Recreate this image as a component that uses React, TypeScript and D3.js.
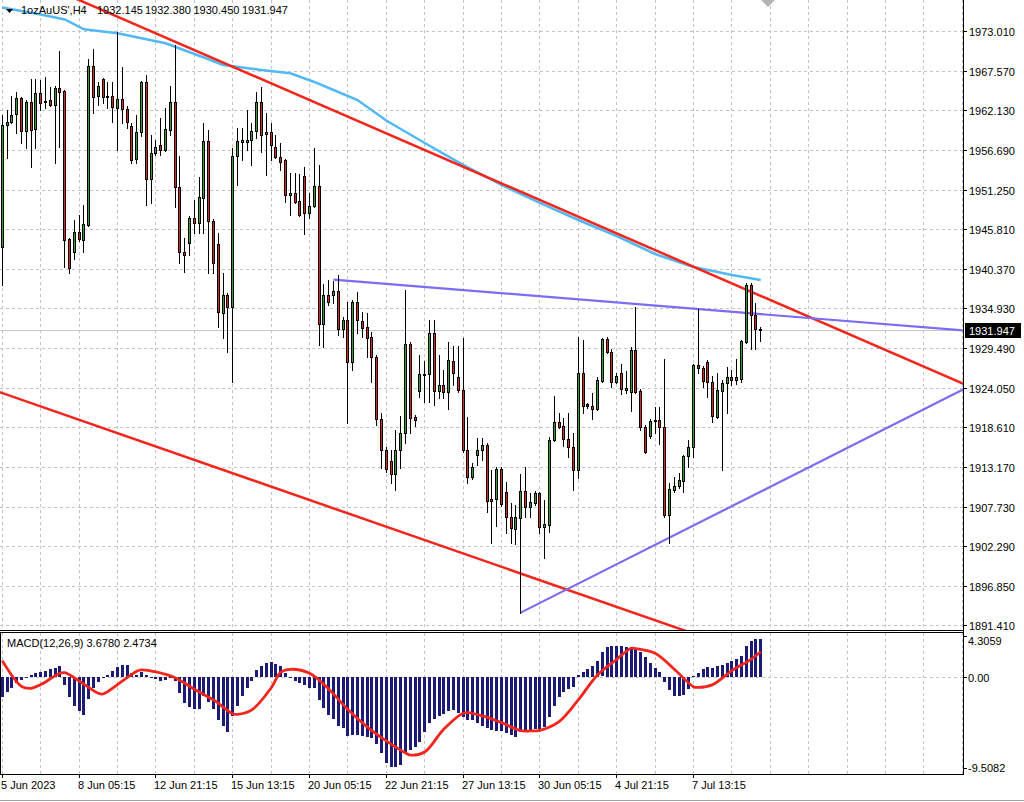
import React, { useRef, useEffect } from 'react';
import * as d3 from 'd3';

// ── Data (H4 bars) ───────────────────────────────────────────────────────────
const OPEN = [
  1943.4, 1960.1, 1960.5, 1961.65, 1963.8, 1959.36, 1963.34, 1959.54, 1964.49, 1963.48,
  1963.57, 1962.88, 1965.17, 1964.85, 1944.43, 1942.65, 1945.39, 1944.34, 1946.4, 1968.29,
  1964.12, 1966.41, 1964.12, 1964.12, 1962.43, 1963.66, 1962.29, 1960.0, 1955.42, 1959.13,
  1966.04, 1952.67, 1956.24, 1957.34, 1956.7, 1959.45, 1963.34, 1951.57, 1942.74, 1943.88,
  1947.32, 1946.63, 1950.07, 1957.94, 1947.0, 1943.75, 1934.27, 1936.79, 1935.1, 1955.88,
  1957.85, 1957.85, 1958.08, 1959.36, 1963.35, 1958.91, 1959.23, 1957.07, 1955.79, 1955.33,
  1950.48, 1950.75, 1949.75, 1953.14, 1948.01, 1949.02, 1951.76, 1932.81, 1936.79, 1936.79,
  1937.34, 1932.07, 1933.36, 1927.63, 1935.87, 1933.22, 1932.44, 1931.07, 1928.32, 1919.71,
  1915.5, 1914.03, 1912.2, 1915.5, 1917.88, 1930.06, 1920.07, 1923.65, 1925.9, 1925.93,
  1931.52, 1923.65, 1924.42, 1923.51, 1927.77, 1925.57, 1923.74, 1915.5, 1911.74, 1914.81,
  1915.5, 1916.18, 1908.72, 1908.72, 1912.84, 1909.77, 1906.34, 1904.6, 1906.11, 1909.91,
  1907.71, 1908.26, 1909.54, 1904.87, 1905.19, 1916.87, 1919.39, 1918.79, 1916.96, 1915.95,
  1912.75, 1926.03, 1921.77, 1921.54, 1921.08, 1925.02, 1930.7, 1929.0, 1924.88, 1926.12,
  1923.74, 1923.51, 1929.23, 1923.65, 1918.61, 1917.42, 1919.43, 1919.62, 1918.61, 1906.57,
  1910.0, 1910.55, 1911.28, 1914.67, 1915.95, 1927.17, 1926.8, 1927.63, 1924.88, 1920.07,
  1923.65, 1924.65, 1925.48, 1925.11, 1925.2, 1930.38, 1938.16, 1934.04, 1932.145,
];
const HIGH = [
  1961.5, 1962.2, 1964.1, 1964.72, 1963.94, 1963.57, 1966.41, 1966.41, 1966.32, 1966.78,
  1965.4, 1965.49, 1970.3, 1964.94, 1944.57, 1947.09, 1947.77, 1949.15, 1969.16, 1970.53,
  1966.09, 1966.55, 1966.09, 1966.09, 1972.96, 1968.15, 1962.75, 1960.37, 1961.51, 1966.18,
  1967.0, 1958.76, 1958.08, 1961.05, 1962.43, 1965.49, 1971.13, 1955.88, 1944.57, 1947.64,
  1949.84, 1952.95, 1960.37, 1959.45, 1947.18, 1945.35, 1939.77, 1937.02, 1956.94, 1959.68,
  1959.68, 1962.2, 1960.46, 1964.72, 1965.41, 1961.74, 1960.37, 1958.77, 1957.62, 1955.42,
  1953.5, 1953.5, 1953.41, 1954.33, 1950.85, 1956.94, 1954.65, 1938.3, 1938.85, 1938.76,
  1939.54, 1933.81, 1935.87, 1936.1, 1937.25, 1934.5, 1934.27, 1931.75, 1928.55, 1920.54,
  1915.95, 1915.5, 1918.24, 1920.17, 1937.47, 1930.38, 1920.3, 1928.54, 1927.77, 1933.35,
  1933.35, 1928.54, 1926.48, 1930.38, 1929.78, 1929.78, 1930.83, 1920.07, 1913.66, 1917.1,
  1917.1, 1916.5, 1912.75, 1913.21, 1913.11, 1911.15, 1908.17, 1907.94, 1912.2, 1913.21,
  1909.54, 1909.91, 1909.77, 1908.63, 1917.33, 1922.91, 1920.53, 1919.85, 1920.53, 1917.79,
  1931.06, 1930.6, 1922.0, 1923.28, 1925.48, 1930.83, 1930.97, 1929.32, 1926.03, 1927.31,
  1926.39, 1929.6, 1935.18, 1923.83, 1918.93, 1919.71, 1921.45, 1921.36, 1927.95, 1911.01,
  1911.83, 1912.38, 1914.81, 1916.87, 1927.31, 1934.82, 1927.03, 1927.86, 1925.66, 1926.12,
  1925.11, 1926.94, 1926.48, 1927.95, 1930.6, 1938.48, 1938.48, 1935.64, 1932.38,
];
const LOW = [
  1938.2, 1955.6, 1960.4, 1959.08, 1957.71, 1956.93, 1954.41, 1956.93, 1962.2, 1962.43,
  1962.75, 1954.87, 1957.16, 1940.68, 1939.85, 1941.68, 1944.25, 1942.74, 1946.2, 1961.74,
  1962.88, 1963.11, 1962.43, 1960.59, 1956.7, 1960.37, 1959.68, 1954.96, 1954.96, 1958.63,
  1949.15, 1949.47, 1956.0, 1956.02, 1956.61, 1958.76, 1948.92, 1941.14, 1939.99, 1942.28,
  1945.26, 1945.26, 1945.26, 1939.77, 1939.77, 1932.44, 1930.84, 1929.01, 1924.88, 1951.9,
  1955.33, 1956.71, 1954.65, 1958.31, 1956.48, 1953.27, 1955.33, 1955.56, 1953.96, 1949.61,
  1947.78, 1949.38, 1947.64, 1945.17, 1947.32, 1948.92, 1929.92, 1929.69, 1935.42, 1935.65,
  1931.3, 1931.07, 1919.16, 1926.49, 1931.53, 1931.07, 1928.32, 1924.88, 1918.93, 1912.98,
  1912.52, 1910.92, 1910.0, 1912.98, 1916.5, 1917.88, 1918.79, 1922.73, 1922.13, 1922.13,
  1921.68, 1922.59, 1922.59, 1921.08, 1924.42, 1923.51, 1915.27, 1910.92, 1911.47, 1913.43,
  1914.12, 1907.02, 1902.77, 1905.06, 1907.8, 1904.05, 1902.77, 1902.58, 1893.15, 1906.34,
  1906.25, 1907.94, 1904.14, 1900.61, 1904.28, 1916.78, 1918.47, 1916.04, 1914.58, 1910.0,
  1911.6, 1920.53, 1921.22, 1919.71, 1920.99, 1924.88, 1928.77, 1924.1, 1924.74, 1923.19,
  1923.28, 1920.9, 1923.37, 1918.24, 1915.13, 1917.1, 1917.78, 1916.32, 1906.34, 1902.68,
  1909.77, 1910.23, 1909.77, 1913.21, 1914.58, 1926.03, 1924.19, 1922.82, 1919.39, 1919.84,
  1912.75, 1920.62, 1924.42, 1924.56, 1924.88, 1930.15, 1929.32, 1929.32, 1930.45,
];
const CLOSE = [
  1960.1, 1960.5, 1961.5, 1963.8, 1959.36, 1963.34, 1959.45, 1964.49, 1963.11, 1963.4,
  1962.88, 1965.17, 1964.72, 1944.34, 1940.45, 1945.39, 1944.43, 1946.54, 1968.29, 1964.03,
  1965.49, 1963.94, 1963.94, 1962.56, 1963.66, 1962.29, 1960.59, 1955.33, 1959.22, 1966.04,
  1952.67, 1956.24, 1957.07, 1956.7, 1959.59, 1963.34, 1951.57, 1942.65, 1942.28, 1947.32,
  1946.64, 1950.2, 1957.94, 1947.0, 1941.14, 1934.41, 1936.79, 1935.1, 1955.88, 1957.94,
  1958.08, 1958.08, 1959.36, 1963.35, 1958.77, 1959.23, 1957.39, 1955.7, 1955.1, 1950.53,
  1950.75, 1949.61, 1947.78, 1948.01, 1949.02, 1951.76, 1932.81, 1936.79, 1935.87, 1937.34,
  1932.07, 1933.36, 1927.63, 1935.87, 1933.36, 1932.21, 1930.84, 1928.32, 1919.71, 1915.5,
  1912.84, 1912.2, 1915.5, 1917.88, 1930.06, 1919.94, 1919.62, 1925.93, 1926.0, 1931.52,
  1923.65, 1924.42, 1923.51, 1927.86, 1926.12, 1923.74, 1915.5, 1911.74, 1913.21, 1915.5,
  1916.18, 1908.53, 1908.53, 1912.84, 1908.08, 1906.34, 1904.74, 1906.25, 1909.91, 1907.62,
  1908.4, 1909.54, 1904.87, 1905.33, 1916.87, 1919.39, 1918.61, 1916.96, 1915.95, 1912.75,
  1926.03, 1921.54, 1921.54, 1921.08, 1925.11, 1930.7, 1929.0, 1924.88, 1925.66, 1923.83,
  1923.97, 1929.23, 1923.51, 1918.61, 1915.27, 1919.52, 1919.62, 1918.61, 1906.57, 1910.09,
  1910.55, 1911.38, 1914.67, 1915.95, 1927.17, 1926.71, 1925.02, 1924.88, 1920.17, 1923.74,
  1924.74, 1925.48, 1925.11, 1925.48, 1930.51, 1938.16, 1934.04, 1932.07, 1931.947,
];

// MACD(12,26,9) main line, drawn as a histogram (one value per bar)
const MACD_MAIN = [
  -2.0, -1.44, -1.11, -0.62, -0.29, -0.07, 0.16, 0.36, 0.52, 0.62,
  0.75, 0.92, 1.11, -0.78, -1.93, -2.84, -3.3, -3.73, -2.19, -1.11,
  -0.46, -0.03, 0.16, 0.62, 0.95, 1.14, 1.14, 0.42, 0.2, 0.52,
  0.2, -0.13, -0.23, -0.36, -0.29, -0.03, -0.36, -1.54, -2.58, -2.97,
  -3.17, -3.17, -1.86, -2.42, -3.17, -4.22, -4.8, -5.36, -3.82, -2.84,
  -1.86, -1.11, -0.36, 0.69, 1.11, 1.41, 1.44, 1.31, 1.08, 0.42,
  -0.03, -0.36, -0.56, -0.78, -1.11, -1.05, -2.25, -3.07, -3.73, -4.15,
  -4.8, -5.03, -5.78, -5.69, -5.69, -5.78, -5.85, -6.01, -6.57, -7.48,
  -8.46, -8.82, -8.82, -8.63, -7.48, -7.16, -6.9, -6.35, -5.4, -4.54,
  -4.1, -3.85, -3.65, -3.3, -3.28, -3.5, -3.95, -4.22, -4.22, -4.5,
  -4.8, -5.0, -5.2, -5.25, -5.3, -5.52, -5.69, -5.85, -5.4, -5.2,
  -5.2, -5.13, -5.1, -4.9, -3.9, -2.8, -1.95, -1.45, -1.15, -0.95,
  0.2, 0.45, 0.8, 1.1, 1.6, 2.4, 2.9, 3.0, 3.0, 3.0,
  2.95, 2.9, 2.85, 2.45, 2.0, 1.35, 0.85, 0.5, -0.5, -1.3,
  -1.9, -1.9, -1.8, -1.2, 0.1, 0.4, 0.75, 0.95, 0.85, 1.05,
  1.2, 1.35, 1.6, 1.75, 2.1, 3.05, 3.55, 3.7, 3.678,
];

// Signal line, read at these bars
const SIGNAL_BARS = [
  0, 4, 6, 8, 12, 13, 16, 20, 21, 24, 28, 29, 32, 36, 40, 44, 48, 49, 52, 56,
  58, 60, 64, 68, 72, 76, 80, 84, 85, 88, 92, 96, 97, 100, 104, 108, 110, 112, 116, 120,
  124, 128, 131, 132, 136, 140, 144, 145, 148, 152, 156, 158,
];
const SIGNAL_VALS = [
  1.6, -0.92, -1.11, -0.75, 0.36, 0.42, -0.39, -1.6, -1.67, -0.75, 0.56, 0.69, 0.49, -0.08, -1.2, -2.25, -3.6, -3.66, -3.22, -1.08,
  0.46, 0.75, 0.36, -1.18, -3.2, -4.89, -6.27, -7.45, -7.65, -7.35, -5.1, -3.56, -3.5, -3.82, -4.48, -5.26, -5.29, -5.23, -4.38, -2.25,
  0.2, 1.73, 2.81, 2.78, 2.32, 0.75, -0.95, -1.02, -0.75, 0.62, 1.73, 2.4734,
];

// Moving average (light blue)
const MA_BARS = [0, 8, 13, 17, 24, 34, 42, 46, 54, 60, 65, 69, 74, 80, 88, 96, 104, 112, 120, 128, 136, 144, 152, 158];
const MA_VALS = [
  1976.28, 1975.32, 1974.63, 1973.29, 1972.74, 1971.36, 1969.41, 1968.38, 1967.69, 1967.24,
  1966.05, 1964.95, 1963.57, 1960.76, 1957.67, 1954.65, 1951.9, 1949.43, 1947.09, 1944.89,
  1942.42, 1940.63, 1939.54, 1938.85,
];

// Trendlines: two anchors each [bar, price]
const RED_UPPER = [[20, 1976.16], [150, 1938.95]];
const RED_LOWER = [[0, 1923.31], [130, 1893.48]];
const PURPLE_UPPER = [[69, 1938.9], [145, 1934.85]];
const PURPLE_LOWER = [[108, 1893.15], [158, 1909.78]];

const PRICE_TICKS = [
  1973.01, 1967.57, 1962.13, 1956.69, 1951.25, 1945.81, 1940.37, 1934.93,
  1929.49, 1924.05, 1918.61, 1913.17, 1907.73, 1902.29, 1896.85, 1891.41,
];
const MACD_TICKS = [4.3059, 0, -9.5082];
const MACD_TICK_LABELS = ['4.3059', '0.00', '-9.5082'];
const DATE_BARS = [0, 16, 32, 48, 64, 80, 96, 112, 128, 144];
const DATE_LABELS = [
  '5 Jun 2023', '8 Jun 05:15', '12 Jun 21:15', '15 Jun 13:15', '20 Jun 05:15',
  '22 Jun 21:15', '27 Jun 13:15', '30 Jun 05:15', '4 Jul 21:15', '7 Jul 13:15',
];
const LAST_PRICE = 1931.947;
const HEADER = ["1ozAuUS',H4", '1932.145', '1932.380', '1930.450', '1931.947'];

// ── Chart ─────────────────────────────────────────────────────────────────────
const W = 1024;
const H = 802;
const FONT = '"Liberation Sans", Arial, sans-serif';

const Chart: React.FC = () => {
  const svgRef = useRef<SVGSVGElement>(null);

  useEffect(() => {
    if (!svgRef.current) return;
    const svg = d3.select(svgRef.current);
    svg.selectAll('*').remove();

    // ── Layout ────────────────────────────────────────────────────────────────
    const RIGHT = 963;
    const MAIN = { top: 0, bottom: 630 };
    const SUB = { top: 633, bottom: 774 };

    const x = d3.scaleLinear().domain([0, 200]).range([2.3, 962.3]);
    const y = d3.scaleLinear().domain([1891.41, 1973.01]).range([625.3, 31.3]);
    const m = d3.scaleLinear().domain([-9.5082, 4.3059]).range([SUB.bottom, SUB.top]);
    const px = (i: number) => Math.floor(x(i));

    svg.append('rect').attr('width', W).attr('height', H).attr('fill', '#fff');

    const defs = svg.append('defs');
    defs.append('clipPath').attr('id', 'clip-main')
      .append('rect').attr('x', 0).attr('y', MAIN.top).attr('width', RIGHT).attr('height', MAIN.bottom - MAIN.top);
    defs.append('clipPath').attr('id', 'clip-sub')
      .append('rect').attr('x', 0).attr('y', SUB.top).attr('width', RIGHT).attr('height', SUB.bottom - SUB.top);

    // ── Grid ──────────────────────────────────────────────────────────────────
    const gridBars = d3.range(0, 201, 8);
    const grid = svg.append('g').attr('stroke', '#c4c4c4').attr('stroke-dasharray', '3,3').attr('shape-rendering', 'crispEdges');
    PRICE_TICKS.forEach(p => {
      const yy = Math.round(y(p)) + 0.5;
      grid.append('line').attr('x1', 0).attr('x2', RIGHT).attr('y1', yy).attr('y2', yy);
    });
    gridBars.forEach(b => {
      const xx = px(b) + 0.5;
      if (xx >= RIGHT) return;
      grid.append('line').attr('x1', xx).attr('x2', xx).attr('y1', MAIN.top).attr('y2', MAIN.bottom);
      grid.append('line').attr('x1', xx).attr('x2', xx).attr('y1', SUB.top).attr('y2', SUB.bottom);
    });
    const zy = Math.round(m(0)) + 0.5;
    grid.append('line').attr('x1', 0).attr('x2', RIGHT).attr('y1', zy).attr('y2', zy);

    // current price line
    const ly = Math.round(y(LAST_PRICE)) + 0.5;
    svg.append('line').attr('x1', 0).attr('x2', RIGHT).attr('y1', ly).attr('y2', ly)
      .attr('stroke', '#c8c8c8').attr('stroke-width', 1);

    // ── Main panel ────────────────────────────────────────────────────────────
    const main = svg.append('g').attr('clip-path', 'url(#clip-main)');

    // moving average
    const maLine = d3.line<number>().x((_, k) => x(MA_BARS[k])).y(v => y(v));
    main.append('path').attr('d', maLine(MA_VALS)).attr('fill', 'none')
      .attr('stroke', '#52b9f5').attr('stroke-width', 2.5);

    // trendlines (extended to the right edge as rays)
    const ray = (pts: number[][], color: string, width: number, fromStart = false) => {
      const [a, b] = pts;
      const slope = (b[1] - a[1]) / (b[0] - a[0]);
      const i0 = fromStart ? -20 : a[0];
      const i1 = 210;
      main.append('line')
        .attr('x1', x(i0)).attr('y1', y(a[1] + slope * (i0 - a[0])))
        .attr('x2', x(i1)).attr('y2', y(a[1] + slope * (i1 - a[0])))
        .attr('stroke', color).attr('stroke-width', width);
    };
    ray(RED_UPPER, '#f2261c', 2.5, true);
    ray(RED_LOWER, '#f2261c', 2.5, true);
    ray(PURPLE_UPPER, '#7b6cf2', 2.2);
    ray(PURPLE_LOWER, '#7b6cf2', 2.2);

    // candles
    const candles = main.append('g').attr('shape-rendering', 'crispEdges');
    OPEN.forEach((o, i) => {
      const c = CLOSE[i];
      const n = px(i);
      candles.append('line')
        .attr('x1', n + 0.5).attr('x2', n + 0.5)
        .attr('y1', Math.round(y(HIGH[i]))).attr('y2', Math.round(y(LOW[i])) + 1)
        .attr('stroke', '#000');
      const top = Math.round(y(Math.max(o, c)));
      const bot = Math.round(y(Math.min(o, c)));
      candles.append('rect')
        .attr('x', n - 0.5).attr('width', 2)
        .attr('y', top + 0.5).attr('height', Math.max(1, bot - top))
        .attr('fill', c >= o ? '#3c9b34' : '#d42a1e')
        .attr('stroke', '#000').attr('stroke-width', 1);
    });

    // ── MACD panel ────────────────────────────────────────────────────────────
    const sub = svg.append('g').attr('clip-path', 'url(#clip-sub)');
    const bars = sub.append('g').attr('shape-rendering', 'crispEdges').attr('fill', '#1c1c76');
    MACD_MAIN.forEach((v, i) => {
      const y0 = m(0);
      const y1 = m(v);
      bars.append('rect')
        .attr('x', px(i) - 1).attr('width', 3)
        .attr('y', Math.round(Math.min(y0, y1))).attr('height', Math.max(1, Math.round(Math.abs(y1 - y0))));
    });
    const sigLine = d3.line<number>().x((_, k) => x(SIGNAL_BARS[k])).y(v => m(v)).curve(d3.curveCatmullRom);
    sub.append('path').attr('d', sigLine(SIGNAL_VALS)).attr('fill', 'none')
      .attr('stroke', '#f2261c').attr('stroke-width', 2.8);

    // ── Frames ────────────────────────────────────────────────────────────────
    const frame = svg.append('g').attr('stroke', '#000').attr('fill', 'none').attr('shape-rendering', 'crispEdges');
    frame.append('line').attr('x1', RIGHT + 0.5).attr('x2', RIGHT + 0.5).attr('y1', 0).attr('y2', SUB.bottom);
    frame.append('line').attr('x1', 0).attr('x2', RIGHT).attr('y1', MAIN.bottom + 0.5).attr('y2', MAIN.bottom + 0.5);
    frame.append('line').attr('x1', 0).attr('x2', RIGHT).attr('y1', SUB.top - 0.5).attr('y2', SUB.top - 0.5);
    frame.append('line').attr('x1', 0).attr('x2', RIGHT + 1).attr('y1', SUB.bottom + 0.5).attr('y2', SUB.bottom + 0.5);
    frame.append('line').attr('x1', 0.5).attr('x2', 0.5).attr('y1', SUB.top).attr('y2', SUB.bottom);
    svg.append('line').attr('x1', 0).attr('x2', W).attr('y1', 800.5).attr('y2', 800.5)
      .attr('stroke', '#a0a0a0').attr('shape-rendering', 'crispEdges');

    // ── Price axis ────────────────────────────────────────────────────────────
    const axis = svg.append('g').attr('font-family', FONT).attr('font-size', 11).attr('fill', '#000');
    PRICE_TICKS.forEach(p => {
      const yy = Math.round(y(p)) + 0.5;
      axis.append('line').attr('x1', RIGHT).attr('x2', RIGHT + 4).attr('y1', yy).attr('y2', yy)
        .attr('stroke', '#000').attr('shape-rendering', 'crispEdges');
      axis.append('text').attr('x', 969).attr('y', yy + 4).text(p.toFixed(3));
    });
    axis.append('rect').attr('x', 965).attr('y', ly - 7.5).attr('width', 56).attr('height', 15).attr('fill', '#000');
    axis.append('text').attr('x', 969).attr('y', ly + 4).attr('fill', '#fff').text(LAST_PRICE.toFixed(3));

    MACD_TICKS.forEach((v, k) => {
      const yy = Math.round(m(v)) + 0.5;
      const ty = k === 0 ? yy + 11 : k === 2 ? yy - 3 : yy + 4;
      const tk = k === 0 ? yy + 3 : k === 2 ? yy - 6 : yy;
      axis.append('line').attr('x1', RIGHT).attr('x2', RIGHT + 4).attr('y1', tk).attr('y2', tk)
        .attr('stroke', '#000').attr('shape-rendering', 'crispEdges');
      axis.append('text').attr('x', 968).attr('y', ty).text(MACD_TICK_LABELS[k]);
    });

    // ── Time axis ─────────────────────────────────────────────────────────────
    DATE_BARS.forEach((b, k) => {
      const xx = px(b) + 0.5;
      axis.append('line').attr('x1', xx).attr('x2', xx).attr('y1', SUB.bottom).attr('y2', SUB.bottom + 4)
        .attr('stroke', '#000').attr('shape-rendering', 'crispEdges');
      axis.append('text').attr('x', xx - 1.5).attr('y', 789).text(DATE_LABELS[k]);
    });

    // ── Labels ────────────────────────────────────────────────────────────────
    axis.append('path').attr('d', 'M6,9 L13,9 L9.5,13 Z').attr('fill', '#000');
    const headX = [21, 97, 145, 193.5, 242];
    HEADER.forEach((t, k) => axis.append('text').attr('x', headX[k]).attr('y', 14).text(t));
    axis.append('text').attr('x', 7).attr('y', 647).text('MACD(12,26,9) 3.6780 2.4734');

    // chart-shift marker
    svg.append('path').attr('d', 'M761,0 L775,0 L768,7 Z').attr('fill', '#b4b4b4');
  }, []);

  return <svg ref={svgRef} width={W} height={H} style={{ display: 'block' }} />;
};

export default function App() {
  return (
    <>
      <style>{'body{margin:0}'}</style>
      <Chart />
    </>
  );
}
